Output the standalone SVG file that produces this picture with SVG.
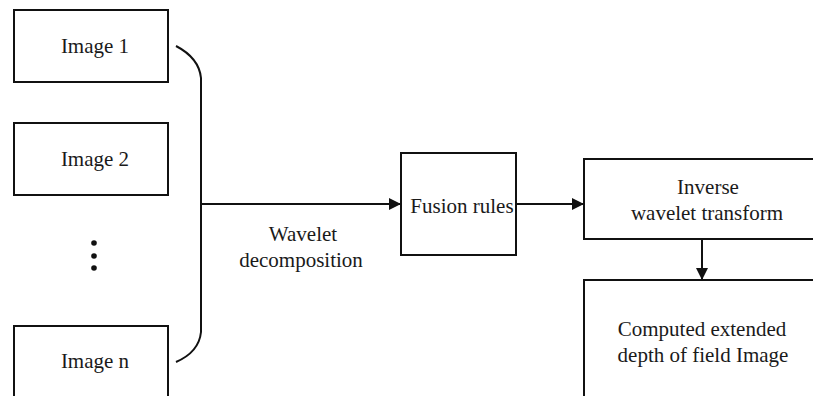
<svg xmlns="http://www.w3.org/2000/svg" width="813" height="396" viewBox="0 0 813 396">
<defs>
<style>
.box{fill:#fff;stroke:#111;stroke-width:2}
.t{font-family:"Liberation Serif","Times New Roman",serif;font-size:21px;fill:#1a1a1a;text-anchor:middle}
.ln{fill:none;stroke:#111;stroke-width:2}
</style>
<marker id="ah" markerUnits="userSpaceOnUse" markerWidth="12" markerHeight="12" refX="12" refY="6" orient="auto">
<path d="M0,0 L12,6 L0,12 z" fill="#111"/>
</marker>
</defs>
<rect width="813" height="396" fill="#fff"/>
<g id="image1"><rect class="box" x="14" y="10" width="154" height="72"/><text class="t" x="95" y="53">Image 1</text></g>
<g id="image2"><rect class="box" x="14" y="123" width="154" height="72"/><text class="t" x="95" y="166">Image 2</text></g>
<g id="dots"><circle cx="94" cy="243" r="2.8" fill="#111"/><circle cx="94" cy="256" r="2.8" fill="#111"/><circle cx="94" cy="268" r="2.8" fill="#111"/></g>
<g id="imagen"><rect class="box" x="14" y="326" width="154" height="80"/><text class="t" x="95" y="368">Image n</text></g>
<g id="fusion"><rect class="box" x="401" y="153" width="115" height="102"/><text class="t" x="462" y="213">Fusion rules</text></g>
<g id="inverse"><rect class="box" x="584" y="159" width="240" height="80"/><text class="t" x="708" y="194">Inverse</text><text class="t" x="707" y="220">wavelet transform</text></g>
<g id="computed"><rect class="box" x="584" y="280" width="240" height="130"/><text class="t" x="702" y="336">Computed extended</text><text class="t" x="703" y="362">depth of field Image</text></g>
<g id="connectors">
<path class="ln" d="M176,46 Q199,58 201,78 L201,332 Q199,352 176,362"/>
<line class="ln" x1="201" y1="204" x2="401" y2="204" marker-end="url(#ah)"/>
<line class="ln" x1="516" y1="204" x2="584" y2="204" marker-end="url(#ah)"/>
<line class="ln" x1="702" y1="239" x2="702" y2="280" marker-end="url(#ah)"/>
<text class="t" x="303" y="241">Wavelet</text>
<text class="t" x="301" y="267">decomposition</text>
</g>
</svg>
